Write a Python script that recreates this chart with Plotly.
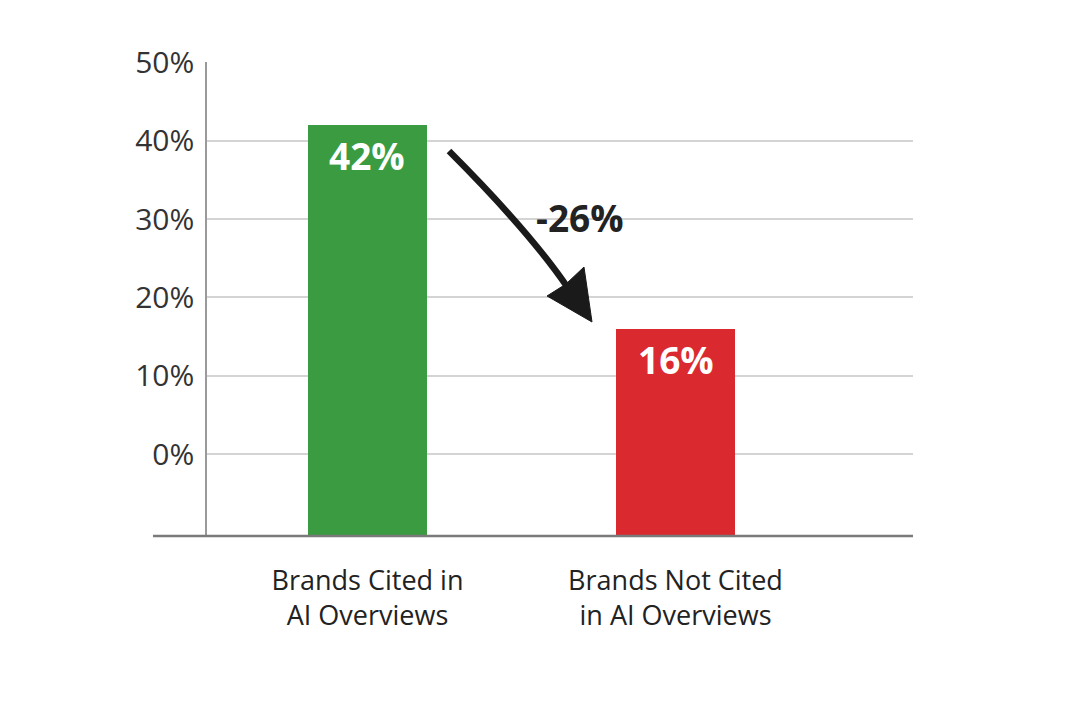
import plotly.graph_objects as go

# ---- data ----
categories = ["Brands Cited in<br>AI Overviews", "Brands Not Cited<br>in AI Overviews"]
values = [42, 16]
bar_colors = ["#3a9b41", "#da2a30"]
y_ticks = [0, 10, 20, 30, 40, 50]
y_tick_labels = [f"{v}%" for v in y_ticks]

# ---- layout geometry (pixels in the 1075x716 page) ----
OFF = 8                      # default body margin of the page
W, H = 1075 - 2 * OFF, 716 - 2 * OFF
L, R, T, B = 207, 913, 62, 536
Y_MIN, Y_MAX = -10.46, 50.0
X_MIN, X_MAX = -0.521, 1.771


def P(px, py):
    """page pixel -> paper coordinates"""
    return (px - L) / (R - L), (B - py) / (B - T)


def pt(px, py):
    x, y = P(px, py)
    return f"{x:.5f},{y:.5f}"


FONT = "Open Sans"
xpos = list(range(len(categories)))

fig = go.Figure()
fig.add_trace(go.Bar(
    x=xpos,
    y=[v - Y_MIN for v in values],
    base=[Y_MIN] * len(values),
    width=0.386,
    marker=dict(color=bar_colors, line=dict(width=0)),
    hoverinfo="skip",
))

annotations = []
for xi, v in zip(xpos, values):
    annotations.append(dict(
        x=xi, y=v, xref="x", yref="y", text=f"{v}%", showarrow=False,
        yanchor="top", yshift=-3,
        font=dict(family=FONT, size=37, color="white", weight=700),
    ))

diff = values[0] - values[1]
lx, ly = P(580, 217)
annotations.append(dict(
    x=lx, y=ly, xref="paper", yref="paper", text=f"-{diff}%", showarrow=False,
    xanchor="center", yanchor="middle",
    font=dict(family=FONT, size=37, color="#222222", weight=700),
))

bx0, by0 = P(530, 200)
bx1, by1 = P(632, 236)
shapes = [
    # white patch hiding the gridline behind the change label
    dict(type="rect", xref="paper", yref="paper", x0=bx0, x1=bx1, y0=by0, y1=by1,
         fillcolor="white", line=dict(width=0), layer="between"),
    # baseline extending left of the axis
    dict(type="line", xref="paper", yref="paper",
         x0=(153 - L) / (R - L), x1=1, y0=0, y1=0,
         line=dict(color="#7a7a7a", width=2.5), layer="above"),
    # curved arrow shaft
    dict(type="path", xref="paper", yref="paper",
         path=f"M{pt(449,151)} Q{pt(529.7,231.7)} {pt(568,288)}",
         line=dict(color="#1a1a1a", width=6.5), layer="above"),
    # arrow head
    dict(type="path", xref="paper", yref="paper",
         path=f"M{pt(592,322)} L{pt(547,296)} L{pt(566,284)} L{pt(584,267)} Z",
         fillcolor="#1a1a1a", line=dict(color="#1a1a1a", width=1), layer="above"),
]

fig.update_layout(
    width=W, height=H,
    margin=dict(l=L - OFF, r=W - (R - OFF), t=T - OFF, b=H - (B - OFF), pad=0),
    paper_bgcolor="white", plot_bgcolor="white",
    showlegend=False,
    bargap=0,
    annotations=annotations,
    shapes=shapes,
    xaxis=dict(
        range=[X_MIN, X_MAX], tickmode="array", tickvals=xpos, ticktext=categories,
        showgrid=False, zeroline=False, showline=False, ticks="",
        tickfont=dict(family=FONT, size=27, color="#222222"),
        ticklabelstandoff=26, fixedrange=True,
    ),
    yaxis=dict(
        range=[Y_MIN, Y_MAX + 0.05], tickmode="array", tickvals=y_ticks, ticktext=y_tick_labels,
        showgrid=True, gridcolor="#d4d4d4", gridwidth=1.5,
        zeroline=False, showline=True, linecolor="#9a9a9a", linewidth=1.5,
        ticks="", ticklabelstandoff=5,
        tickfont=dict(family=FONT, size=30, color="#333333"), fixedrange=True,
    ),
)

fig.write_html("out.html", config={"displayModeBar": False})
